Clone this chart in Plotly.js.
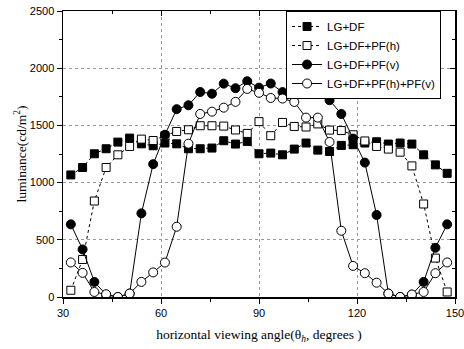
<!DOCTYPE html>
<html>
<head>
<meta charset="utf-8">
<script src="https://cdn.plot.ly/plotly-3.0.1.min.js"></script>
<style>html,body{margin:0;padding:0;background:#fff;}#chart{width:464px;height:349px;}</style>
</head>
<body>
<div id="chart"></div>
<script>
// viewing angles (degrees)
var angles = [32.4,36.0,39.6,43.2,46.8,50.4,54.0,57.6,61.2,64.8,68.4,72.0,75.6,79.2,82.8,86.4,90.0,93.6,97.2,100.8,104.4,108.0,111.6,115.2,118.8,122.4,126.0,129.6,133.2,136.8,140.4,144.0,147.6];

var seriesNames = ["LG+DF","LG+DF+PF(h)","LG+DF+PF(v)","LG+DF+PF(h)+PF(v)"];

var lgDf = [1067,1132,1252,1296,1354,1389,1339,1322,1346,1339,1296,1296,1302,1366,1337,1360,1252,1258,1243,1293,1346,1284,1272,1325,1331,1346,1357,1337,1346,1337,1243,1155,1081];

var lgDfPfH = [59,328,839,1132,1243,1316,1380,1368,1410,1447,1462,1497,1497,1494,1460,1430,1533,1410,1526,1491,1486,1513,1459,1455,1418,1364,1316,1293,1266,1146,813,340,44];

var lgDfPfV = [635,416,132,20,0,30,731,1161,1418,1642,1676,1792,1777,1865,1825,1886,1830,1866,1791,1791,1813,1857,1720,1600,1385,1175,717,30,0,20,132,430,635];

var lgDfPfHV = [302,211,44,24,0,30,132,215,301,614,1340,1600,1620,1655,1706,1819,1785,1740,1735,1705,1568,1568,1355,579,272,208,125,30,0,22,44,208,302];

var xTicks = [30,60,90,120,150];
var yTicks = [0,500,1000,1500,2000,2500];

var symbols = ["square","square-open","circle","circle-open"];
var values = [lgDf, lgDfPfH, lgDfPfV, lgDfPfHV];

var traces = values.map(function(v, k){
  var open = symbols[k].indexOf("open") >= 0;
  return {
    x: angles, y: v, name: seriesNames[k], type: "scatter", mode: "lines+markers",
    line: {color: "#000", width: 1, dash: k < 2 ? "dot" : "solid"},
    marker: {symbol: symbols[k].replace("-open",""), size: symbols[k].indexOf("circle")>=0 ? 9 : 8,
             color: open ? "#fff" : "#000", line: {color: "#000", width: 1}}
  };
});
// overlay axes to give inside ticks on top/right edges
traces.push({x: [30,150], y: [0,2500], xaxis: "x2", yaxis: "y2", mode: "none", showlegend: false, hoverinfo: "skip"});

var tickFont = {family: "Liberation Sans, Arial, sans-serif", size: 11, color: "#000"};
var layout = {
  width: 464, height: 349,
  margin: {l: 63, r: 9, t: 11, b: 52},
  paper_bgcolor: "#fff", plot_bgcolor: "#fff",
  showlegend: true,
  legend: {x: 0.569, y: 1.0, xanchor: "left", yanchor: "top", bgcolor: "#fff",
           bordercolor: "#000", borderwidth: 1, font: {family: "Liberation Sans, Arial, sans-serif", size: 11.5, color: "#000"},
           tracegroupgap: 0, itemwidth: 30},
  xaxis: {range: [30,150], tickvals: xTicks, ticktext: xTicks.map(String), ticks: "outside", ticklen: 5, tickwidth: 1,
          tickcolor: "#000", showline: true, linecolor: "#000", linewidth: 1.5, mirror: true,
          ticklabeloverflow: "allow",
          minor: {dtick: 15, tick0: 30, ticks: "outside", ticklen: 3, tickcolor: "#000", showgrid: false},
          showgrid: true, gridcolor: "#999", griddash: "dot", gridwidth: 1, zeroline: false,
          tickfont: tickFont,
          title: {text: "horizontal viewing angle(θ<sub><i>h</i></sub>, degrees )", standoff: 12,
                  font: {family: "Liberation Serif, Times New Roman, serif", size: 13.5, color: "#000"}}},
  yaxis: {range: [0,2500], tickvals: yTicks, ticktext: yTicks.map(String), ticks: "outside", ticklen: 5, tickwidth: 1,
          tickcolor: "#000", showline: true, linecolor: "#000", linewidth: 1.5, mirror: true,
          minor: {dtick: 250, tick0: 0, ticks: "outside", ticklen: 3, tickcolor: "#000", showgrid: false},
          showgrid: true, gridcolor: "#999", griddash: "dot", gridwidth: 1, zeroline: false,
          tickfont: tickFont,
          title: {text: "luminance(cd/m<sup>2</sup>)", standoff: 0,
                  font: {family: "Liberation Serif, Times New Roman, serif", size: 13.5, color: "#000"}}},
  xaxis2: {overlaying: "x", side: "top", range: [30,150], tickvals: xTicks, showticklabels: false, ticks: "inside",
           ticklen: 5, tickcolor: "#000", showgrid: false, zeroline: false,
           minor: {dtick: 15, tick0: 30, ticks: "inside", ticklen: 3, tickcolor: "#000"}},
  yaxis2: {overlaying: "y", side: "right", range: [0,2500], tickvals: yTicks, showticklabels: false, ticks: "inside",
           ticklen: 5, tickcolor: "#000", showgrid: false, zeroline: false,
           minor: {dtick: 250, tick0: 0, ticks: "inside", ticklen: 3, tickcolor: "#000"}}
};
Plotly.newPlot("chart", traces, layout, {displayModeBar: false, staticPlot: true});
</script>
</body>
</html>
